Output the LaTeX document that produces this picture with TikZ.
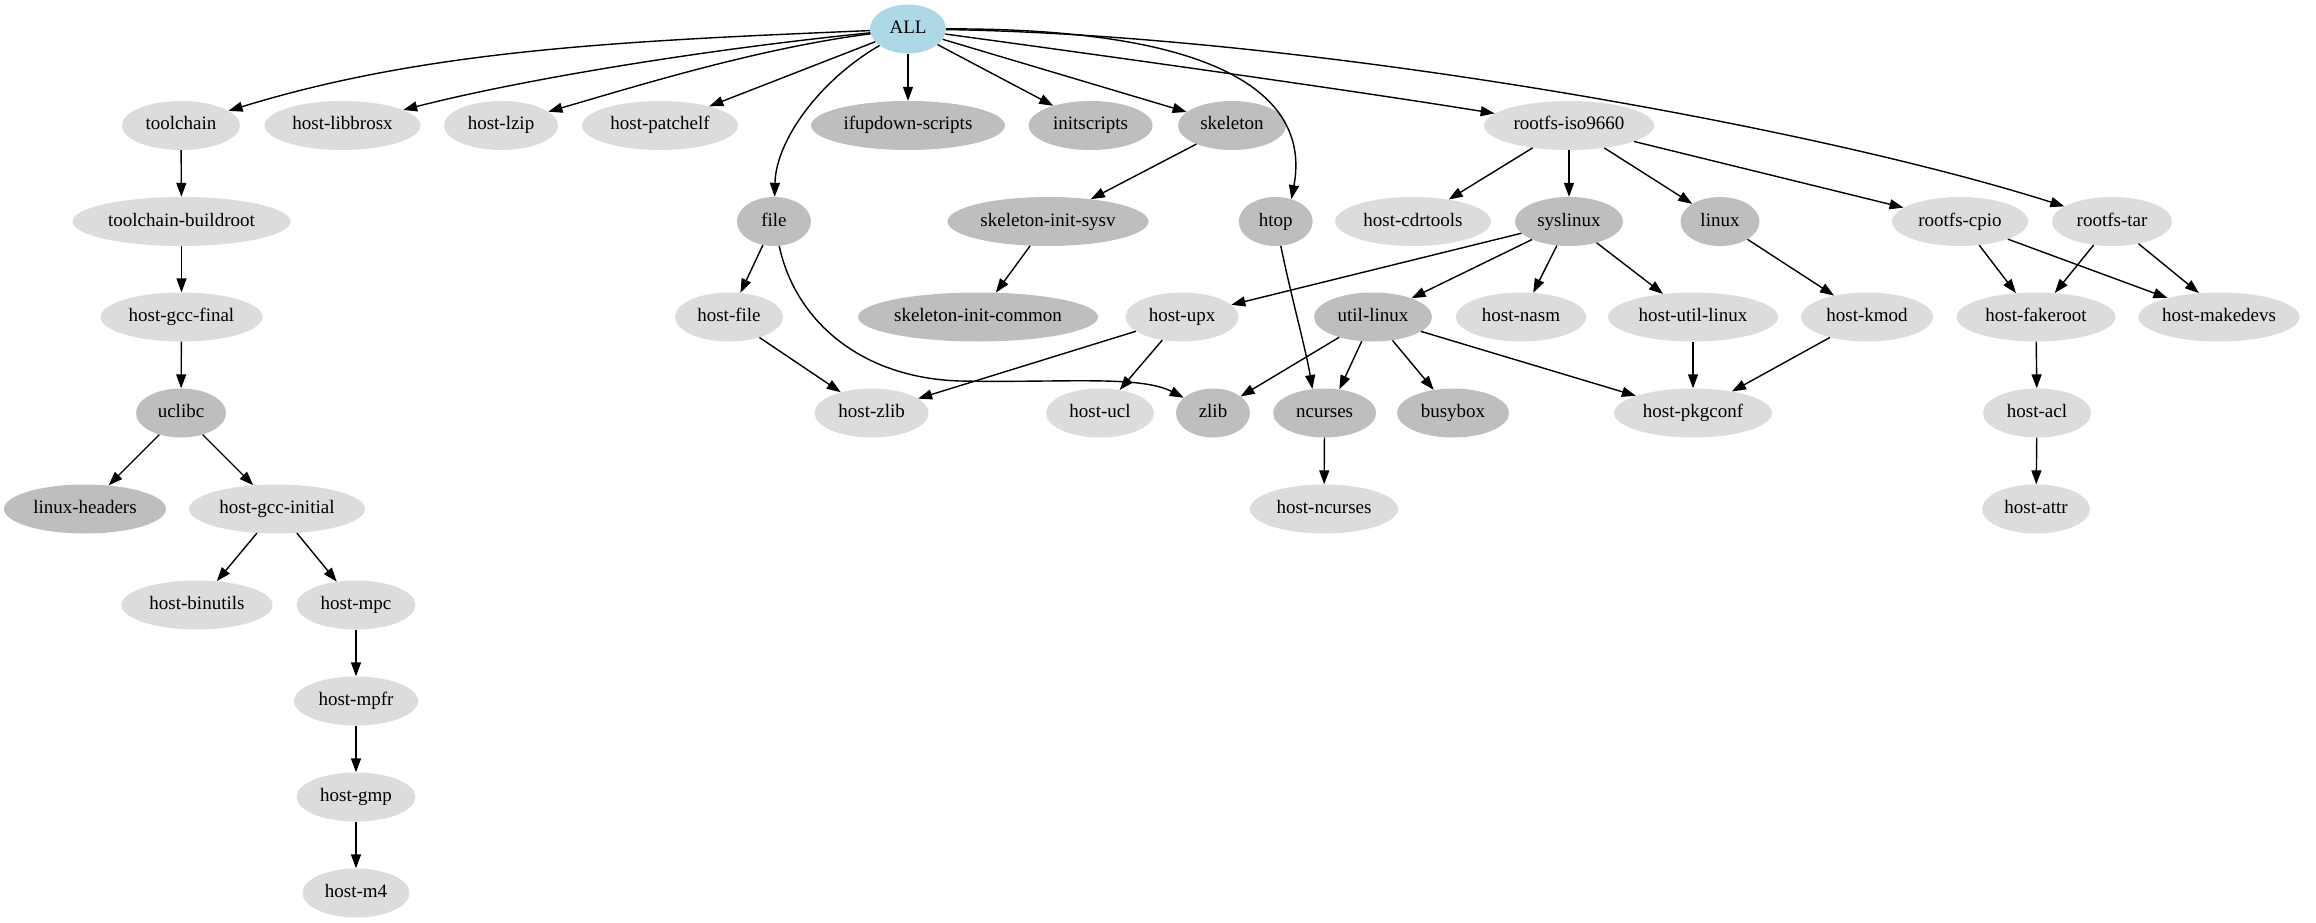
\documentclass[tikz,border=0pt]{standalone}
\usepackage{fontspec}
\setmainfont{Liberation Serif}
\usetikzlibrary{shapes.geometric,arrows.meta}
\definecolor{lightg}{HTML}{DCDCDC}
\definecolor{darkg}{HTML}{BEBEBE}
\definecolor{allblue}{HTML}{ADD8E6}
\tikzset{
  pkg/.style={ellipse, draw=none, inner xsep=0pt, inner ysep=0pt,
    minimum height=49pt, text height=13pt, text depth=4pt,
    font=\fontsize{19}{22}\selectfont},
  hostpkg/.style={pkg, fill=lightg},
  tgtpkg/.style={pkg, fill=darkg},
  rootpkg/.style={pkg, fill=allblue},
  dep/.style={line width=1.4pt, -{Triangle[length=14pt,width=10pt]}}
}
\begin{document}
\begin{tikzpicture}[x=1pt,y=1pt]
\fill[white] (0,0) rectangle (2316,-923);
\useasboundingbox (0,0) rectangle (2316,-923);

% row 0
\node[rootpkg, minimum width=76pt] (ALL) at (908,-29) {ALL};
% row 1
\node[hostpkg, minimum width=118pt] (toolchain) at (181,-125.5) {toolchain};
\node[hostpkg, minimum width=156pt] (hlibbrosx) at (342.5,-125.5) {host-libbrosx};
\node[hostpkg, minimum width=114pt] (hlzip) at (501,-125.5) {host-lzip};
\node[hostpkg, minimum width=156pt] (hpatchelf) at (660,-125.5) {host-patchelf};
\node[tgtpkg, minimum width=194pt] (ifupdown) at (908,-125.5) {ifupdown-scripts};
\node[tgtpkg, minimum width=124pt] (initscripts) at (1090.6,-125.5) {initscripts};
\node[tgtpkg, minimum width=108pt] (skeleton) at (1232,-125.5) {skeleton};
\node[hostpkg, minimum width=170pt] (riso) at (1569,-125.5) {rootfs-iso9660};
% row 2
\node[hostpkg, minimum width=218pt] (tcbuild) at (181.5,-221.5) {toolchain-buildroot};
\node[tgtpkg, minimum width=74pt] (file) at (774,-221.5) {file};
\node[tgtpkg, minimum width=201pt] (skelsysv) at (1048,-221.5) {skeleton-init-sysv};
\node[tgtpkg, minimum width=74pt] (htop) at (1275.7,-221.5) {htop};
\node[hostpkg, minimum width=156pt] (hcdrtools) at (1413,-221.5) {host-cdrtools};
\node[tgtpkg, minimum width=108pt] (syslinux) at (1569,-221.5) {syslinux};
\node[tgtpkg, minimum width=79pt] (linux) at (1720,-221.5) {linux};
\node[hostpkg, minimum width=136pt] (rcpio) at (1960,-221.5) {rootfs-cpio};
\node[hostpkg, minimum width=120pt] (rtar) at (2112,-221.5) {rootfs-tar};
% row 3
\node[hostpkg, minimum width=162pt] (hgccfinal) at (181.5,-317) {host-gcc-final};
\node[hostpkg, minimum width=108pt] (hfile) at (729,-317) {host-file};
\node[tgtpkg, minimum width=240pt] (skelcommon) at (978,-317) {skeleton-init-common};
\node[hostpkg, minimum width=113pt] (hupx) at (1182,-317) {host-upx};
\node[tgtpkg, minimum width=118pt] (ulinux) at (1373,-317) {util-linux};
\node[hostpkg, minimum width=130pt] (hnasm) at (1521,-317) {host-nasm};
\node[hostpkg, minimum width=170pt] (hulinux) at (1693,-317) {host-util-linux};
\node[hostpkg, minimum width=132pt] (hkmod) at (1867,-317) {host-kmod};
\node[hostpkg, minimum width=159pt] (hfakeroot) at (2036,-317) {host-fakeroot};
\node[hostpkg, minimum width=160pt] (hmakedevs) at (2219,-317) {host-makedevs};
% row 4
\node[tgtpkg, minimum width=90pt] (uclibc) at (181,-413) {uclibc};
\node[hostpkg, minimum width=114pt] (hzlib) at (871.6,-413) {host-zlib};
\node[hostpkg, minimum width=108pt] (hucl) at (1100,-413) {host-ucl};
\node[tgtpkg, minimum width=74pt] (zlib) at (1213,-413) {zlib};
\node[tgtpkg, minimum width=103pt] (ncurses) at (1324.6,-413) {ncurses};
\node[tgtpkg, minimum width=112pt] (busybox) at (1453,-413) {busybox};
\node[hostpkg, minimum width=158pt] (hpkgconf) at (1693,-413) {host-pkgconf};
\node[hostpkg, minimum width=108pt] (hacl) at (2037,-413) {host-acl};
% row 5
\node[tgtpkg, minimum width=162pt] (lheaders) at (85,-509) {linux-headers};
\node[hostpkg, minimum width=176pt] (hgccinit) at (277,-509) {host-gcc-initial};
\node[hostpkg, minimum width=148pt] (hncurses) at (1324,-509) {host-ncurses};
\node[hostpkg, minimum width=108pt] (hattr) at (2036,-509) {host-attr};
% rows 6-9
\node[hostpkg, minimum width=151pt] (hbinutils) at (197,-605) {host-binutils};
\node[hostpkg, minimum width=119pt] (hmpc) at (356,-605) {host-mpc};
\node[hostpkg, minimum width=124pt] (hmpfr) at (356,-701) {host-mpfr};
\node[hostpkg, minimum width=119pt] (hgmp) at (356,-797) {host-gmp};
\node[hostpkg, minimum width=107pt] (hm4) at (356,-893) {host-m4};

\coordinate (fzmid) at (960,-381);

% edges from ALL
\draw[dep] (ALL) .. controls (620,-41) and (426,-50) .. (toolchain);
\draw[dep] (ALL) .. controls (700,-50) and (520,-80) .. (hlibbrosx);
\draw[dep] (ALL) .. controls (760,-48) and (640,-85) .. (hlzip);
\draw[dep] (ALL) -- (hpatchelf);
\draw[dep] (ALL) .. controls (820,-80) and (776,-140) .. (file);
\draw[dep] (ALL) -- (ifupdown);
\draw[dep] (ALL) -- (initscripts);
\draw[dep] (ALL) -- (skeleton);
\draw[dep] (ALL) .. controls (1230,-28) and (1310,-100) .. (htop.55);
\draw[dep] (ALL) .. controls (1100,-55) and (1350,-90) .. (riso);
\draw[dep] (ALL) .. controls (1300,-35) and (1808,-125) .. (rtar);

% toolchain chain
\draw[dep] (toolchain) -- (tcbuild);
\draw[dep] (tcbuild) -- (hgccfinal);
\draw[dep] (hgccfinal) -- (uclibc);
\draw[dep] (uclibc) -- (lheaders);
\draw[dep] (uclibc) -- (hgccinit);
\draw[dep] (hgccinit) -- (hbinutils);
\draw[dep] (hgccinit) -- (hmpc);
\draw[dep] (hmpc) -- (hmpfr);
\draw[dep] (hmpfr) -- (hgmp);
\draw[dep] (hgmp) -- (hm4);

% file
\draw[dep] (file) -- (hfile);
\draw[dep] (file) .. controls (795,-320) and (860,-378) .. (fzmid) .. controls (1060,-383) and (1140,-375) .. (zlib);
\draw[dep] (hfile) -- (hzlib);

% skeleton
\draw[dep] (skeleton) -- (skelsysv);
\draw[dep] (skelsysv) -- (skelcommon);

% htop
\draw[dep] (htop) .. controls (1292,-300) and (1306,-350) .. (ncurses.117);
\draw[dep] (ncurses) -- (hncurses);

% rootfs-iso9660
\draw[dep] (riso) -- (hcdrtools);
\draw[dep] (riso) -- (syslinux);
\draw[dep] (riso) -- (linux);
\draw[dep] (riso) -- (rcpio);

% syslinux
\draw[dep] (syslinux) -- (hupx);
\draw[dep] (syslinux) -- (ulinux);
\draw[dep] (syslinux) -- (hnasm);
\draw[dep] (syslinux) -- (hulinux);

% host-upx
\draw[dep] (hupx) -- (hzlib);
\draw[dep] (hupx) -- (hucl);

% util-linux
\draw[dep] (ulinux) -- (zlib);
\draw[dep] (ulinux) -- (ncurses.58);
\draw[dep] (ulinux) -- (busybox);
\draw[dep] (ulinux) -- (hpkgconf);

\draw[dep] (hulinux) -- (hpkgconf);
\draw[dep] (linux) -- (hkmod);
\draw[dep] (hkmod) -- (hpkgconf);

% rootfs-cpio / rootfs-tar
\draw[dep] (rcpio.309) -- (hfakeroot.130);
\draw[dep] (rcpio) -- (hmakedevs);
\draw[dep] (rtar.232) -- (hfakeroot.52);
\draw[dep] (rtar.320) -- (hmakedevs.130);
\draw[dep] (hfakeroot) -- (hacl);
\draw[dep] (hacl) -- (hattr);
\end{tikzpicture}
\end{document}
